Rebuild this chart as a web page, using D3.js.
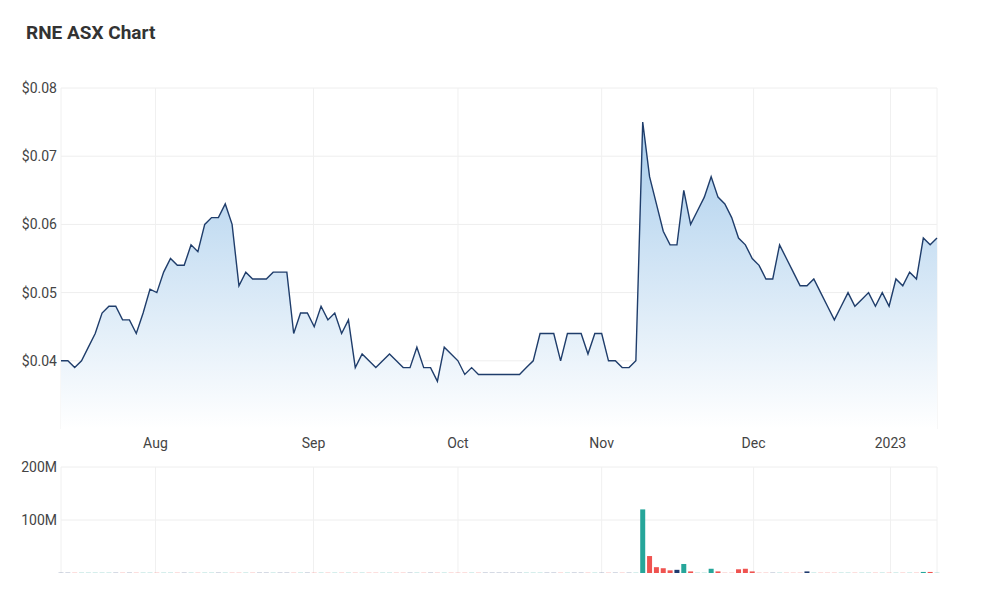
<!DOCTYPE html>
<html><head><meta charset="utf-8">
<script src="https://cdn.jsdelivr.net/npm/d3@7"></script>
<style>body{margin:0;background:#fff;font-family:Roboto,"Noto Sans",sans-serif}</style>
</head><body><svg id="c" width="989" height="600"></svg>
<script>
const prices=[0.040,0.040,0.039,0.040,0.042,0.044,0.047,0.048,0.048,0.046,0.046,0.044,0.047,0.0505,0.050,0.053,0.055,0.054,0.054,0.057,0.056,0.060,0.061,0.061,0.063,0.060,0.051,0.053,0.052,0.052,0.052,0.053,0.053,0.053,0.044,0.047,0.047,0.045,0.048,0.046,0.047,0.044,0.046,0.039,0.041,0.040,0.039,0.040,0.041,0.040,0.039,0.039,0.042,0.039,0.039,0.037,0.042,0.041,0.040,0.038,0.039,0.038,
0.038,0.038,0.038,0.038,0.038,0.038,0.039,0.040,0.044,0.044,0.044,0.040,0.044,0.044,0.044,0.041,0.044,0.044,0.040,0.040,0.039,0.039,0.040,0.075,0.067,0.063,0.059,0.057,0.057,0.065,0.060,0.062,0.064,0.067,0.064,0.063,0.061,0.058,0.057,0.055,0.054,0.052,0.052,0.057,0.055,0.053,0.051,0.051,0.052,0.050,0.048,0.046,0.048,0.050,0.048,0.049,0.050,0.048,0.050,0.048,0.052,0.051,0.053,0.052,0.058,0.057,0.058];
const volumes=[1,1,1,1,1,1,1,1,1,1,1,1,1,1,1,1,1,1,1,1,1,1,1,1,1,1,1,1,1,1,1,1,1,1,1,1,1,1,1,1,1,1,1,1,1,1,1,1,1,1,1,1,1,1,1,1,1,1,1,1,1,1,1,1,1,1,1,1,1,1,1,1,1,1,1,1,1,1,1,1,1,1,1,1,1,
120,32,11,9,5,6,17,3,1,1,8,3,1,1,7,8,3,1,1,1,1,1,1,1,3,1,1,1,1,1,1,1,1,1,1,1,1,1,1,1,1,2,2,1];
const monthLabels=["Aug","Sep","Oct","Nov","Dec","2023"];
const monthPos=[13.8,36.9,58,79,101.2,121.2];
const priceTicks=[0.04,0.05,0.06,0.07,0.08];
const volTicks=[100,200];

const svg=d3.select("#c");
svg.append("text").attr("x",26).attr("y",39).text("RNE ASX Chart").attr("font-size",19).attr("font-weight",700).attr("fill","#333");
const x=d3.scaleLinear().domain([0,prices.length-1]).range([61,937]);
const y=d3.scaleLinear().domain([0.03,0.08]).range([429,88]);
const yv=d3.scaleLinear().domain([0,200]).range([573,467]);
const g=svg.append("g");
// grids
g.selectAll(".gy").data(priceTicks).join("line").attr("x1",61).attr("x2",937).attr("y1",d=>y(d)).attr("y2",d=>y(d)).attr("stroke","#eeeeee");
g.selectAll(".gv").data(volTicks).join("line").attr("x1",61).attr("x2",937).attr("y1",d=>yv(d)).attr("y2",d=>yv(d)).attr("stroke","#eeeeee");
g.selectAll(".gx").data(monthPos).join("line").attr("x1",d=>x(d)).attr("x2",d=>x(d)).attr("y1",88).attr("y2",429).attr("stroke","#f0f0f0");
g.selectAll(".gx2").data(monthPos).join("line").attr("x1",d=>x(d)).attr("x2",d=>x(d)).attr("y1",467).attr("y2",573).attr("stroke","#f0f0f0");
g.append("line").attr("x1",61).attr("x2",61).attr("y1",88).attr("y2",429).attr("stroke","#f0f0f0");
g.append("line").attr("x1",937).attr("x2",937).attr("y1",88).attr("y2",429).attr("stroke","#f0f0f0");
g.append("line").attr("x1",61).attr("x2",61).attr("y1",467).attr("y2",573).attr("stroke","#f0f0f0");
g.append("line").attr("x1",937).attr("x2",937).attr("y1",467).attr("y2",573).attr("stroke","#f0f0f0");
// gradient
const grad=svg.append("defs").append("linearGradient").attr("id","ag").attr("x1",0).attr("x2",0).attr("y1",0).attr("y2",1);
grad.append("stop").attr("offset","0%").attr("stop-color","#a9cdec");
grad.append("stop").attr("offset","100%").attr("stop-color","#ffffff");
svg.append("path").datum(prices).attr("d",d3.area().x((d,i)=>x(i)).y0(429).y1(d=>y(d))).attr("fill","url(#ag)");
svg.append("path").datum(prices).attr("d",d3.line().x((d,i)=>x(i)).y(d=>y(d))).attr("fill","none").attr("stroke","#1f3d6b").attr("stroke-width",1.4);
// volume
svg.selectAll(".vb").data(volumes).join("rect")
 .attr("x",(d,i)=>x(i)-2.5).attr("width",5).attr("y",d=>yv(d)).attr("height",d=>573-yv(d))
 .attr("fill",(d,i)=>{const c=i==0?0:prices[i]-prices[i-1];return c>0?"#26a69a":c<0?"#ef5350":"#1f3a6e";})
 .attr("opacity",d=>d>1?1:0.35);
// labels
svg.selectAll(".yl").data(priceTicks).join("text").attr("x",57).attr("y",d=>y(d)+5).attr("text-anchor","end").attr("font-size",14).attr("fill","#444").text(d=>"$"+d.toFixed(2));
svg.selectAll(".vl").data(volTicks).join("text").attr("x",57).attr("y",d=>yv(d)+5).attr("text-anchor","end").attr("font-size",14).attr("fill","#444").text(d=>d+"M");
svg.selectAll(".xl").data(monthPos).join("text").attr("x",d=>x(d)).attr("y",448).attr("text-anchor","middle").attr("font-size",14).attr("fill","#444").text((d,i)=>monthLabels[i]);
</script></body></html>
